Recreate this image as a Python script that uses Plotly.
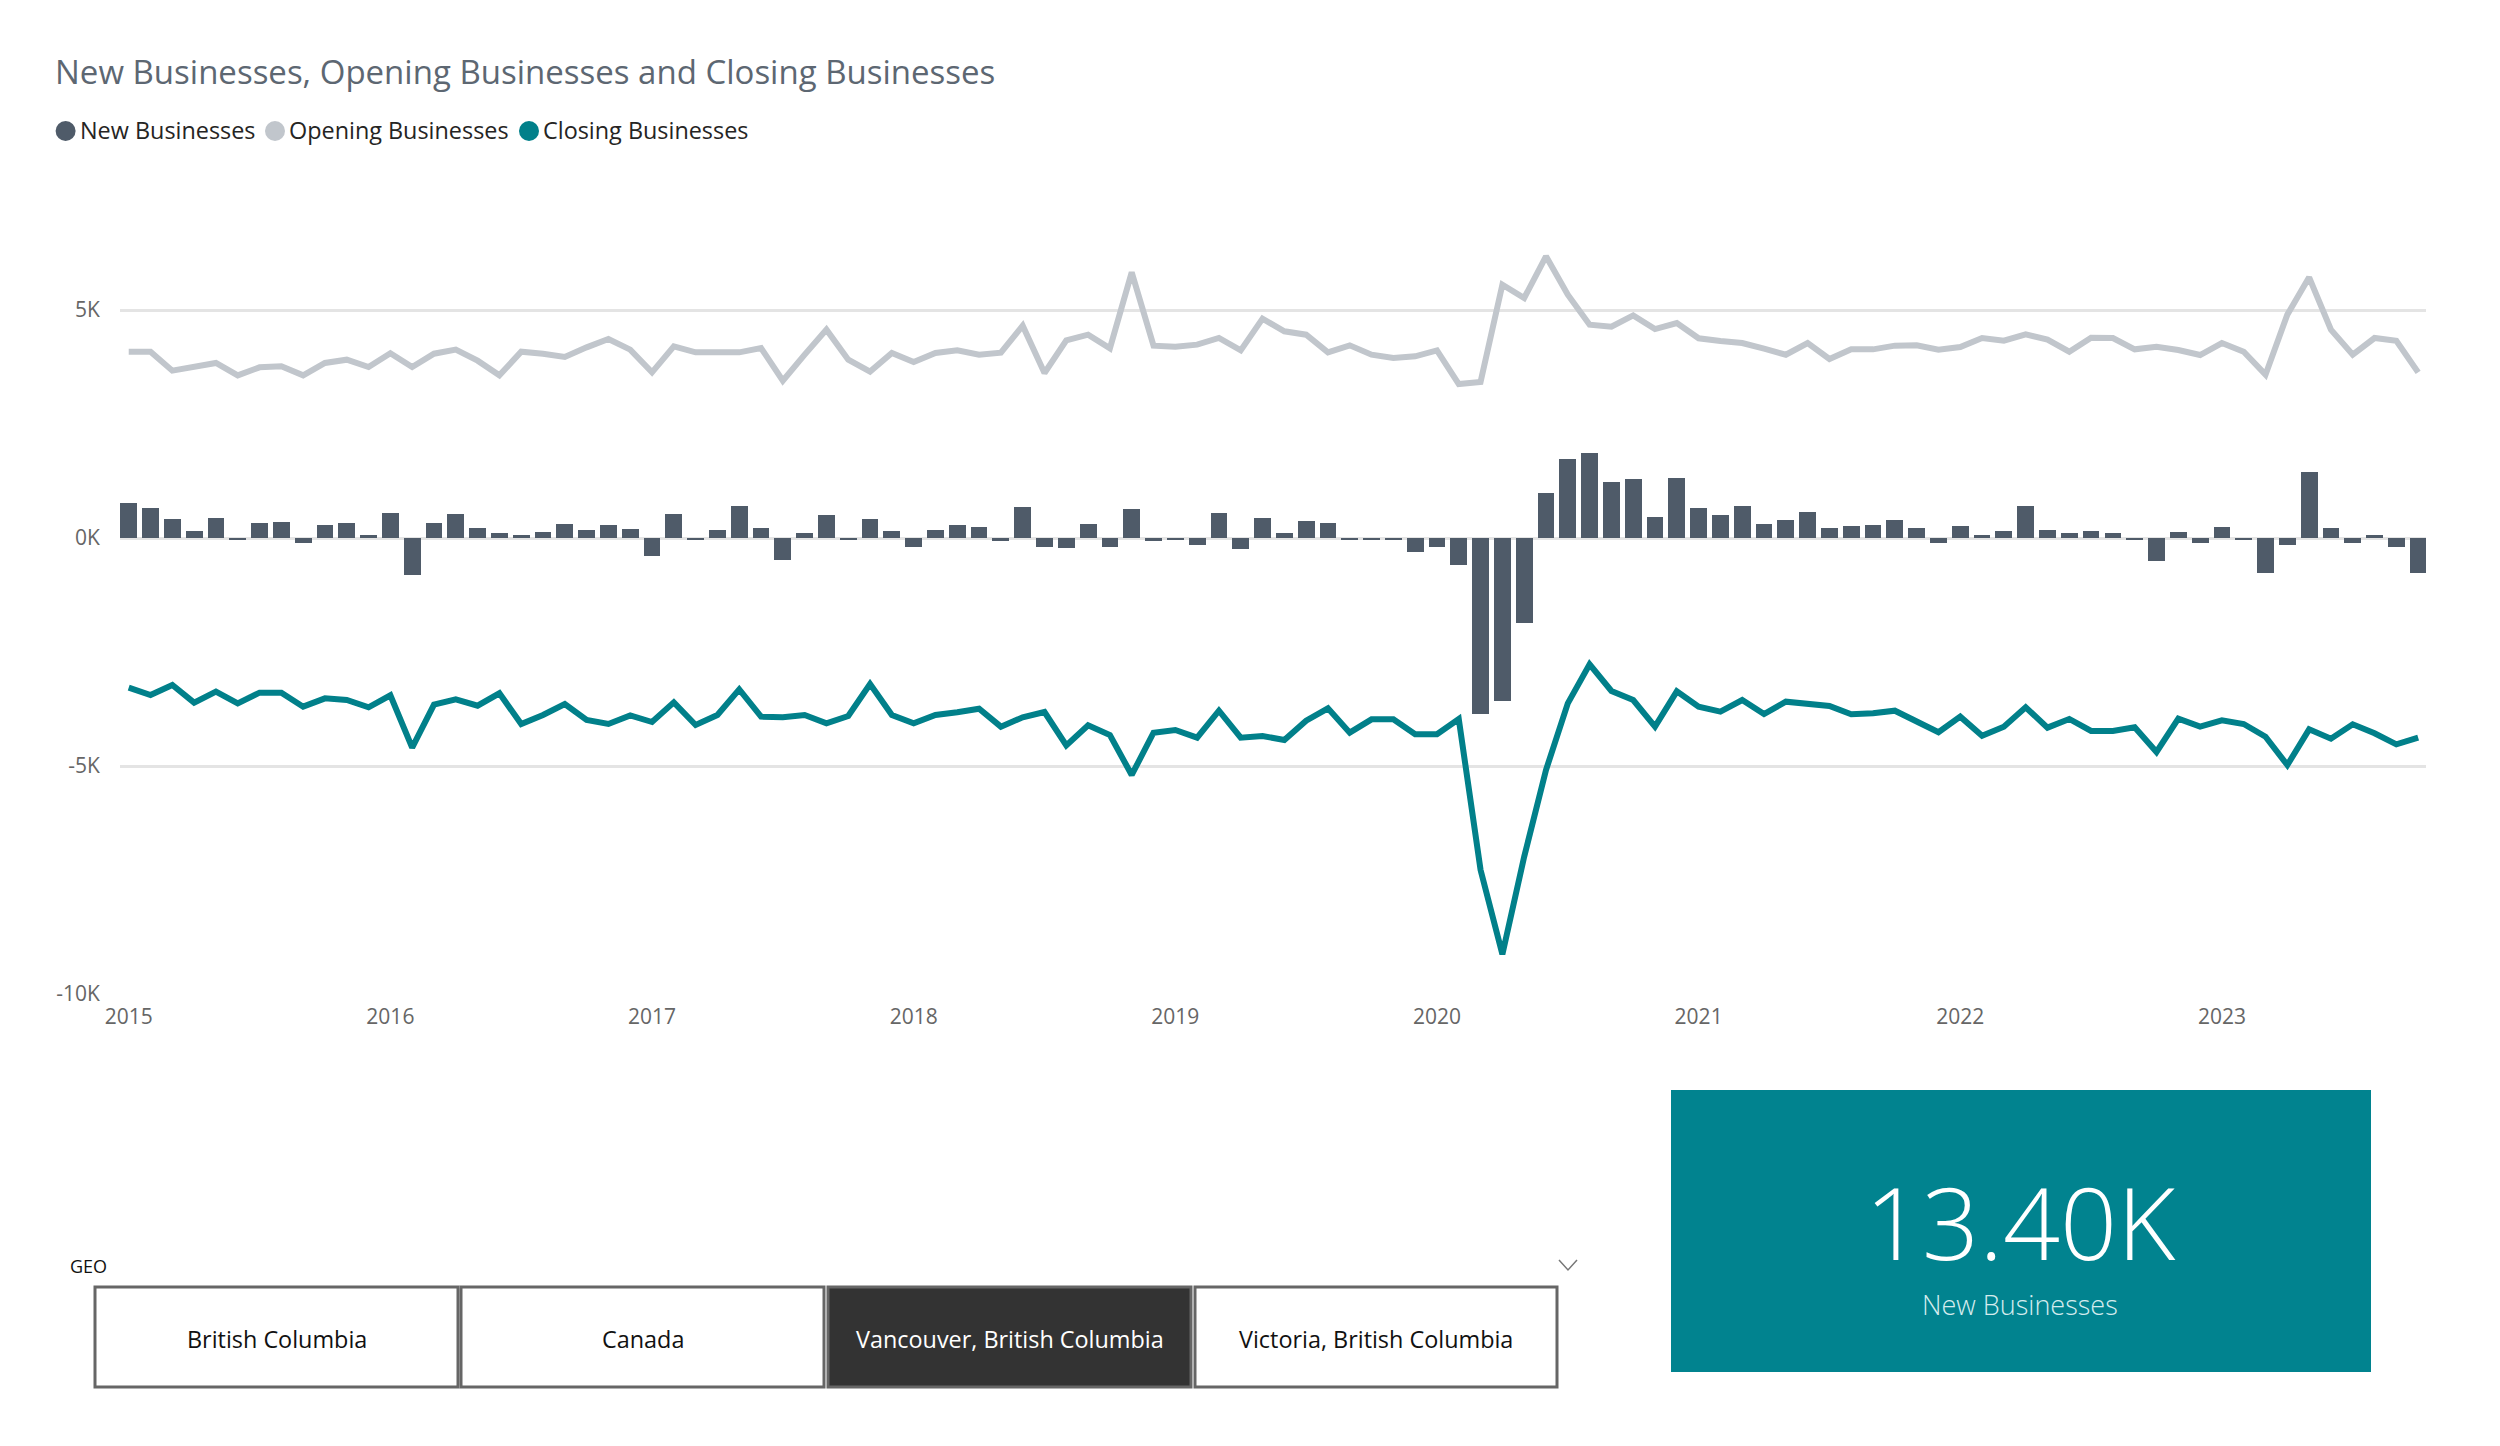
import plotly.graph_objects as go

W, H = 2500, 1446

# months Jan 2015 - Oct 2023
months = [f"{y}-{m:02d}" for y in range(2015, 2024) for m in range(1, 13)][:106]
year_ticks = [f"{y}-01" for y in range(2015, 2024)]
year_labels = [str(y) for y in range(2015, 2024)]

new_businesses = [
    782, 658, 424, 168, 439, -40, 329, 365, -95, 285, 329, 73, 563, -811, 344, 541, 219, 124, 66, 146,
    307, 183, 285, 205, -395, 541, -44, 190, 702, 219, -475, 124, 504, -40, 424, 168, -183, 190, 285, 249,
    -66, 680, -197, -219, 307, -183, 643, -66, -37, -139, 563, -234, 439, 110, 387, 329, -30, -30, -30, -292,
    -197, -592, -3850, -3575, -1864, 1001, 1732, 1864, 1235, 1294, 460, 1316, 658, 504, 702, 307, 402, 585, 219, 263,
    285, 402, 219, -95, 263, 66, 168, 702, 190, 124, 168, 124, -37, -497, 146, -110, 249, -30, -753, -139,
    1455, 219, -95, 66, -197, -753,
]
opening_businesses = [
    4086, 4086, 3670, 3750, 3838, 3567, 3743, 3765, 3567, 3838, 3911, 3750, 4050, 3750, 4042, 4130, 3889, 3567, 4086, 4042,
    3969, 4181, 4364, 4130, 3633, 4203, 4072, 4072, 4072, 4167, 3450, 4020, 4569, 3911, 3648, 4057, 3860, 4057, 4115, 4020,
    4064, 4656, 3618, 4335, 4459, 4159, 5826, 4218, 4196, 4240, 4386, 4115, 4810, 4532, 4459, 4072, 4225, 4020, 3947, 3984,
    4115, 3377, 3421, 5556, 5263, 6177, 5336, 4678, 4635, 4883, 4583, 4715, 4379, 4320, 4276, 4152, 4020, 4276, 3925, 4137,
    4137, 4218, 4225, 4130, 4188, 4386, 4327, 4466, 4349, 4086, 4393, 4386, 4137, 4196, 4123, 4013, 4276, 4086, 3582, 4898,
    5716, 4569, 4020, 4386, 4327, 3633,
]
closing_businesses = [
    -3282, -3443, -3224, -3611, -3370, -3626, -3392, -3392, -3699, -3516, -3553, -3713, -3450, -4598, -3655, -3538, -3677, -3406, -4079, -3882,
    -3640, -3991, -4079, -3889, -4035, -3604, -4101, -3882, -3319, -3918, -3933, -3882, -4064, -3904, -3202, -3882, -4064, -3882, -3823, -3743,
    -4137, -3933, -3816, -4547, -4108, -4320, -5197, -4269, -4210, -4379, -3787, -4379, -4342, -4430, -4006, -3735, -4269, -3977, -3977, -4305,
    -4305, -3969, -7281, -9130, -6988, -5088, -3626, -2770, -3355, -3553, -4137, -3363, -3699, -3808, -3553, -3860, -3589, -3640, -3684, -3867,
    -3845, -3787, -4027, -4261, -3918, -4335, -4137, -3713, -4159, -3969, -4232, -4232, -4152, -4693, -3962, -4137, -3998, -4079, -4357, -4979,
    -4196, -4401, -4086, -4283, -4525, -4379,
]

y_ticks = [-10000, -5000, 0, 5000]
y_labels = ["-10K", "-5K", "0K", "5K"]

title_text = "New Businesses, Opening Businesses and Closing Businesses"
geo_options = ["British Columbia", "Canada", "Vancouver, British Columbia", "Victoria, British Columbia"]
selected_geo = "Vancouver, British Columbia"
card_value = "13.40K"
card_label = "New Businesses"

FONT = "Open Sans"
BAR_COLOR = "#4f5b69"
OPENING_COLOR = "#c1c6cc"
CLOSING_COLOR = "#01808a"
CARD_COLOR = "#01838f"


def px(x):
    return x / W


def py(y):
    return 1 - y / H


fig = go.Figure()

fig.add_trace(go.Bar(x=months, y=new_businesses, name="New Businesses",
                     marker=dict(color=BAR_COLOR, line_width=0), width=0.77))
fig.add_trace(go.Scatter(x=months, y=opening_businesses, name="Opening Businesses", mode="lines",
                         line=dict(color=OPENING_COLOR, width=6)))
fig.add_trace(go.Scatter(x=months, y=closing_businesses, name="Closing Businesses", mode="lines",
                         line=dict(color=CLOSING_COLOR, width=6)))

shapes = []
annotations = []


def add_text(x, y, text, size, color, anchor="left", weight=400):
    annotations.append(dict(xref="paper", yref="paper", x=px(x), y=py(y), text=text, showarrow=False,
                            xanchor=anchor, yanchor="middle", borderpad=0,
                            font=dict(family=FONT, size=size, color=color, weight=weight)))


# title and legend
add_text(54, 71, title_text, 33, "#5d6772")
legend_items = [("New Businesses", BAR_COLOR, 65.6, 79),
                ("Opening Businesses", OPENING_COLOR, 275, 288),
                ("Closing Businesses", CLOSING_COLOR, 529, 542)]
for name, color, cx, tx in legend_items:
    shapes.append(dict(type="circle", xref="paper", yref="paper", x0=px(cx - 10), x1=px(cx + 10),
                       y0=py(141), y1=py(121), fillcolor=color, line_width=0))
    add_text(tx, 130, name, 23.4, "#252423")

# slicer
add_text(69, 1266, "GEO", 18, "#111111")
shapes.append(dict(type="path", xref="paper", yref="paper", line=dict(color="#777777", width=1.5),
                   path=f"M {px(1559)} {py(1260)} L {px(1568)} {py(1270)} L {px(1577)} {py(1260)}"))
button_edges = [(95, 458), (461, 824), (828, 1191), (1195, 1557)]
for label, (x0, x1) in zip(geo_options, button_edges):
    on = label == selected_geo
    shapes.append(dict(type="rect", xref="paper", yref="paper", x0=px(x0), x1=px(x1), y0=py(1387), y1=py(1287),
                       fillcolor="#333333" if on else "#ffffff", line=dict(color="#666666", width=3)))
    add_text((x0 + x1) / 2, 1338.5, label, 23.4, "#ffffff" if on else "#111111", anchor="center")

# card
shapes.append(dict(type="rect", xref="paper", yref="paper", x0=px(1671), x1=px(2371), y0=py(1372), y1=py(1090),
                   fillcolor=CARD_COLOR, line_width=0, layer="below"))
add_text(2020, 1221, card_value, 100, "#ffffff", anchor="center", weight=300)
add_text(2020, 1304, card_label, 27, "#d5ecee", anchor="center", weight=300)

fig.update_layout(
    width=W, height=H, autosize=False,
    margin=dict(l=0, r=0, t=0, b=0, autoexpand=False),
    paper_bgcolor="white", plot_bgcolor="white",
    showlegend=False, bargap=0,
    shapes=shapes, annotations=annotations,
    xaxis=dict(type="category", categoryorder="array", categoryarray=months,
               domain=[px(120), px(2426)], range=[-0.4, 105.36],
               tickmode="array", tickvals=year_ticks, ticktext=year_labels,
               showgrid=False, zeroline=False, showline=False, ticks="outside", ticklen=4,
               tickcolor="rgba(0,0,0,0)", tickfont=dict(family=FONT, size=21, color="#666666")),
    yaxis=dict(domain=[py(994), py(218.8)], range=[-10000, 7000],
               tickmode="array", tickvals=y_ticks, ticktext=y_labels,
               showgrid=True, gridcolor="#e4e4e4", gridwidth=2.5, zeroline=False, showline=False,
               ticks="outside", ticklen=15, tickcolor="rgba(0,0,0,0)",
               tickfont=dict(family=FONT, size=21, color="#666666")),
)

fig.write_html("out.html", config=dict(displayModeBar=False), post_script="document.body.style.margin='0';")
